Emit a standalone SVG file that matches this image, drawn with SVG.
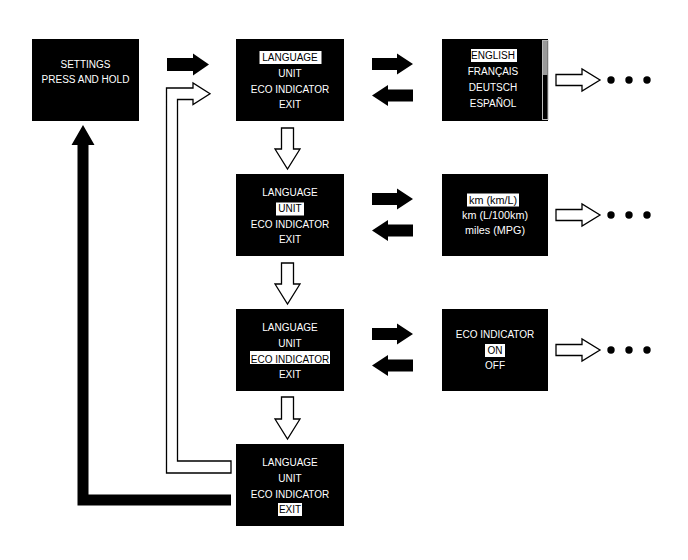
<svg xmlns="http://www.w3.org/2000/svg" width="688" height="560" viewBox="0 0 688 560">
<defs>
<style>
.box{fill:#000}
.t{font-family:"Liberation Sans",Arial,sans-serif;font-size:10px;fill:#fff;text-anchor:middle}
.ts{font-family:"Liberation Sans",Arial,sans-serif;font-size:10px;fill:#000;text-anchor:middle}
.lc{font-size:10.8px}
.hl{fill:#fff}
.solid{fill:#000;stroke:none}
.hollow{fill:#fff;stroke:#000;stroke-width:1.3;stroke-linejoin:miter}
.dot{fill:#000}
</style>
</defs>
<rect width="688" height="560" fill="#fff"/>

<g id="connectors">
  <!-- settings -> language box -->
  <polygon class="solid" points="167,58 193,58 193,53.5 209,64.5 193,75.5 193,71 167,71"/>
  <!-- return loop from EXIT box (hollow) -->
  <polygon class="hollow" points="231,461 177.5,461 177.5,99.5 193,99.5 193,104.5 210,93.75 193,83 193,88 166.5,88 166.5,473 231,473"/>
  <!-- exit back to settings (solid) -->
  <polygon class="solid" points="231,494.5 88.5,494.5 88.5,145 94.5,145 83,125 71.5,145 77.5,145 77.5,505.5 231,505.5"/>
  <!-- down hollow arrows -->
  <polygon class="hollow" points="281.5,128 293.5,128 293.5,149 300,149 287.5,169 275,149 281.5,149"/>
  <polygon class="hollow" points="281.5,263 293.5,263 293.5,284 300,284 287.5,304 275,284 281.5,284"/>
  <polygon class="hollow" points="281.5,397 293.5,397 293.5,419 300,419 287.5,439 275,419 281.5,419"/>
  <!-- right/left solid arrows -->
  <polygon class="solid" points="372,58 397,58 397,53.5 413,64 397,74.5 397,70 372,70"/>
  <polygon class="solid" points="413,89.5 388,89.5 388,85 372,95.5 388,106 388,101.5 413,101.5"/>
  <polygon class="solid" points="372,193 397,193 397,188.5 413,199 397,209.5 397,205 372,205"/>
  <polygon class="solid" points="413,224.5 388,224.5 388,220 372,230.5 388,241 388,236.5 413,236.5"/>
  <polygon class="solid" points="372,328 397,328 397,323.5 413,334 397,344.5 397,340 372,340"/>
  <polygon class="solid" points="413,359.5 388,359.5 388,355 372,365.5 388,376 388,371.5 413,371.5"/>
  <!-- hollow arrows to ellipsis -->
  <polygon class="hollow" points="556,74.5 582,74.5 582,69 600,80 582,91 582,85.5 556,85.5"/>
  <polygon class="hollow" points="556,209.5 582,209.5 582,204 600,215 582,226 582,220.5 556,220.5"/>
  <polygon class="hollow" points="556,344.5 582,344.5 582,339 600,350 582,361 582,355.5 556,355.5"/>
  <circle class="dot" cx="611" cy="80" r="3.7"/><circle class="dot" cx="629" cy="80" r="3.7"/><circle class="dot" cx="647" cy="80" r="3.7"/>
  <circle class="dot" cx="611" cy="215" r="3.7"/><circle class="dot" cx="629" cy="215" r="3.7"/><circle class="dot" cx="647" cy="215" r="3.7"/>
  <circle class="dot" cx="611" cy="350" r="3.7"/><circle class="dot" cx="629" cy="350" r="3.7"/><circle class="dot" cx="647" cy="350" r="3.7"/>
</g>

<g id="settings">
  <rect class="box" x="32" y="39" width="107" height="82"/>
  <text class="t" x="85.5" y="67.5">SETTINGS</text>
  <text class="t" x="85.5" y="82.5">PRESS AND HOLD</text>
</g>

<g id="menu-language">
  <rect class="box" x="236" y="39" width="108" height="82"/>
  <rect class="hl" x="259.5" y="51" width="62" height="13"/>
  <text class="ts" x="290" y="61">LANGUAGE</text>
  <text class="t" x="290" y="76.5">UNIT</text>
  <text class="t" x="290" y="92.5">ECO INDICATOR</text>
  <text class="t" x="290" y="108">EXIT</text>
</g>

<g id="menu-unit">
  <rect class="box" x="236" y="174" width="108" height="82"/>
  <text class="t" x="290" y="196">LANGUAGE</text>
  <rect class="hl" x="276" y="202.5" width="28" height="13"/>
  <text class="ts" x="290" y="211.5">UNIT</text>
  <text class="t" x="290" y="227.5">ECO INDICATOR</text>
  <text class="t" x="290" y="243">EXIT</text>
</g>

<g id="menu-eco">
  <rect class="box" x="236" y="309" width="108" height="82"/>
  <text class="t" x="290" y="331">LANGUAGE</text>
  <text class="t" x="290" y="346.5">UNIT</text>
  <rect class="hl" x="250" y="351" width="80" height="13"/>
  <text class="ts" x="290" y="362.5">ECO INDICATOR</text>
  <text class="t" x="290" y="378">EXIT</text>
</g>

<g id="menu-exit">
  <rect class="box" x="236" y="444" width="108" height="82"/>
  <text class="t" x="290" y="466">LANGUAGE</text>
  <text class="t" x="290" y="481.5">UNIT</text>
  <text class="t" x="290" y="497.5">ECO INDICATOR</text>
  <rect class="hl" x="278" y="503" width="24" height="13"/>
  <text class="ts" x="290" y="513">EXIT</text>
</g>

<g id="language-options">
  <rect class="box" x="442" y="39" width="106" height="82"/>
  <rect x="542.5" y="40.5" width="5.5" height="79" fill="#000" stroke="#bbb" stroke-width="1"/>
  <rect x="543" y="41" width="4.5" height="34" fill="#9a9a9a"/>
  <rect class="hl" x="471" y="49" width="46" height="13"/>
  <text class="ts" x="493" y="58.5">ENGLISH</text>
  <text class="t" x="493" y="74.5">FRANÇAIS</text>
  <text class="t" x="493" y="90.5">DEUTSCH</text>
  <text class="t" x="493" y="106.5">ESPAÑOL</text>
</g>

<g id="unit-options">
  <rect class="box" x="442" y="174" width="106" height="82"/>
  <rect class="hl" x="467" y="193.5" width="52" height="13"/>
  <text class="ts lc" x="493" y="203.8">km (km/L)</text>
  <text class="t lc" x="495" y="218.8">km (L/100km)</text>
  <text class="t lc" x="495" y="233.8">miles (MPG)</text>
</g>

<g id="eco-options">
  <rect class="box" x="442" y="309" width="106" height="82"/>
  <text class="t" x="495" y="338">ECO INDICATOR</text>
  <rect class="hl" x="485" y="344" width="20" height="13"/>
  <text class="ts" x="495" y="353.5">ON</text>
  <text class="t" x="495" y="368.5">OFF</text>
</g>
</svg>
